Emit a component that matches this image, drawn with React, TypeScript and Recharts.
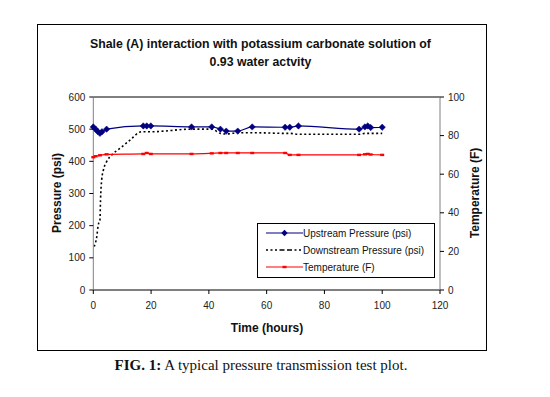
import React from 'react';
import { LineChart, Line, XAxis, YAxis, ReferenceLine } from 'recharts';

const xTicks = [0, 20, 40, 60, 80, 100, 120];
const pressureTicks = [0, 100, 200, 300, 400, 500, 600];
const tempTicks = [0, 20, 40, 60, 80, 100];

const upstreamTime = [0, 0.8, 1.5, 2.3, 3, 4.6, 17.3, 18.5, 19.9, 34, 41, 44, 46, 50, 55, 66.4, 68, 71, 92, 94, 95, 96, 100];
const upstreamPsi = [507, 500, 493, 487, 492, 500, 510, 510, 510, 507, 507, 500, 494, 494, 507, 506, 506, 510, 500, 507, 510, 505, 506];

const downstreamTime = [0.3, 1.2, 1.7, 2.3, 2.5, 2.9, 3.5, 4.6, 6.4, 9.2, 12.7, 16.7, 19.9, 34, 41, 44, 46, 50, 55, 66.4, 68, 71, 92, 94, 96, 100];
const downstreamPsi = [135, 166, 202, 218, 280, 342, 373, 399, 420, 440, 466, 492, 492, 500, 500, 487, 485, 489, 489, 487, 487, 484, 484, 487, 487, 487];

const tempTime = [0, 0.8, 2.3, 4.6, 17.3, 18.5, 19.9, 34, 41, 44, 46, 50, 55, 66.4, 68, 71, 92, 94, 95, 96, 100];
const tempF = [68.8, 69.3, 69.8, 70.3, 70.5, 71, 70.5, 70.5, 70.8, 71, 71, 71, 71, 71, 70, 70, 70, 70.3, 70.5, 70.2, 70];

const upstreamData = upstreamTime.map((t, i) => ({ t, v: upstreamPsi[i] }));
const downstreamData = downstreamTime.map((t, i) => ({ t, v: downstreamPsi[i] }));
const tempData = tempTime.map((t, i) => ({ t, v: tempF[i] }));

const FONT = 'Arial, "Liberation Sans", Helvetica, sans-serif';
const tickStyle = { fontSize: 10, fill: '#222', fontFamily: FONT };

const Diamond = (props: any) => {
  const { cx, cy } = props;
  if (cx == null || cy == null) return null;
  return <path d={`M${cx},${cy - 3.2}L${cx + 3.2},${cy}L${cx},${cy + 3.2}L${cx - 3.2},${cy}Z`} fill="#000080" stroke="#000080" strokeWidth={0.5} />;
};

const Dash = (props: any) => {
  const { cx, cy } = props;
  if (cx == null || cy == null) return null;
  return <rect x={cx - 2} y={cy - 1.2} width={4} height={2.4} fill="#ff0000" />;
};

const legendEntries = [
  { label: 'Upstream Pressure (psi)', kind: 'up' },
  { label: 'Downstream Pressure (psi)', kind: 'down' },
  { label: 'Temperature (F)', kind: 'temp' },
];

const LegendBox = () => (
  <div style={{ position: 'absolute', left: 257, top: 223, width: 176, height: 53, border: '1px solid #000', background: '#fff', fontFamily: FONT, fontSize: 10, color: '#111' }}>
    {legendEntries.map((e, i) => (
      <div key={i} style={{ position: 'absolute', left: 8, top: 2 + i * 17, height: 14, display: 'flex', alignItems: 'center' }}>
        <svg width={37} height={10} style={{ display: 'block' }}>
          {e.kind === 'up' && (
            <g>
              <line x1={0} y1={5} x2={37} y2={5} stroke="#000080" strokeWidth={1.2} />
              <path d="M18.5,1.8L21.7,5L18.5,8.2L15.3,5Z" fill="#000080" />
            </g>
          )}
          {e.kind === 'down' && (
            <line x1={0} y1={5} x2={37} y2={5} stroke="#000" strokeWidth={1.5} strokeDasharray="2 2.5 2 2.5 2 2.5 5 2.5 5 2.5" />
          )}
          {e.kind === 'temp' && (
            <g>
              <line x1={0} y1={5} x2={37} y2={5} stroke="#ff0000" strokeWidth={1.2} />
              <rect x={16.5} y={3.8} width={4} height={2.4} fill="#ff0000" />
            </g>
          )}
        </svg>
        <span style={{ whiteSpace: 'nowrap' }}>{e.label}</span>
      </div>
    ))}
  </div>
);

export default function App() {
  return (
    <div style={{ position: 'absolute', left: 0, top: 0, width: 550, height: 397, background: '#fff' }}>
      <div style={{ position: 'absolute', left: 37, top: 24, width: 448, height: 325, border: '1px solid #000' }} />
      <div style={{ position: 'absolute', left: 0, width: 521, top: 35, textAlign: 'center', fontFamily: FONT, fontWeight: 'bold', fontSize: 12.3, lineHeight: '18px', color: '#111' }}>
        <div>Shale (A) interaction with potassium carbonate solution of</div>
        <div>0.93 water actvity</div>
      </div>
      <div style={{ position: 'absolute', left: 0, top: 0 }}>
        <LineChart width={550} height={397} margin={{ top: 97, right: 70, bottom: 77, left: 53.3 }}>
          <XAxis
            dataKey="t"
            type="number"
            domain={[0, 120]}
            ticks={xTicks}
            allowDuplicatedCategory={false}
            tick={tickStyle}
            tickSize={4}
            tickMargin={8}
            height={30}
            axisLine={{ stroke: '#000' }}
            tickLine={{ stroke: '#000' }}
          />
          <YAxis
            yAxisId="left"
            domain={[0, 600]}
            ticks={pressureTicks}
            tick={tickStyle}
            tickSize={4}
            tickMargin={4}
            width={40}
            axisLine={{ stroke: '#808080' }}
            tickLine={{ stroke: '#000' }}
          />
          <YAxis
            yAxisId="right"
            orientation="right"
            domain={[0, 100]}
            ticks={tempTicks}
            tick={tickStyle}
            tickSize={4}
            tickMargin={4}
            width={40}
            axisLine={{ stroke: '#808080' }}
            tickLine={{ stroke: '#000' }}
          />
          <ReferenceLine yAxisId="left" y={600} stroke="#000" />
          <Line
            yAxisId="left"
            data={downstreamData}
            dataKey="v"
            type="monotone"
            stroke="#000"
            strokeWidth={1.6}
            strokeDasharray="2 2.5"
            dot={false}
            isAnimationActive={false}
          />
          <Line
            yAxisId="right"
            data={tempData}
            dataKey="v"
            type="monotone"
            stroke="#ff0000"
            strokeWidth={1.2}
            dot={<Dash />}
            isAnimationActive={false}
          />
          <Line
            yAxisId="left"
            data={upstreamData}
            dataKey="v"
            type="monotone"
            stroke="#000080"
            strokeWidth={1.2}
            dot={<Diamond />}
            isAnimationActive={false}
          />
        </LineChart>
      </div>
      <LegendBox />
      <div style={{ position: 'absolute', left: 57, top: 193, transform: 'translate(-50%, -50%) rotate(-90deg)', fontFamily: FONT, fontWeight: 'bold', fontSize: 12, whiteSpace: 'nowrap', color: '#111' }}>
        Pressure (psi)
      </div>
      <div style={{ position: 'absolute', left: 475, top: 193, transform: 'translate(-50%, -50%) rotate(-90deg)', fontFamily: FONT, fontWeight: 'bold', fontSize: 12, whiteSpace: 'nowrap', color: '#111' }}>
        Temperature (F)
      </div>
      <div style={{ position: 'absolute', left: 267, top: 328, transform: 'translate(-50%, -50%)', fontFamily: FONT, fontWeight: 'bold', fontSize: 12, whiteSpace: 'nowrap', color: '#111' }}>
        Time (hours)
      </div>
      <div style={{ position: 'absolute', left: 261, top: 365, transform: 'translate(-50%, -50%)', fontFamily: '"Liberation Serif", "Times New Roman", serif', fontSize: 15, whiteSpace: 'nowrap', color: '#111' }}>
        <b>FIG. 1:</b> A typical pressure transmission test plot.
      </div>
    </div>
  );
}
